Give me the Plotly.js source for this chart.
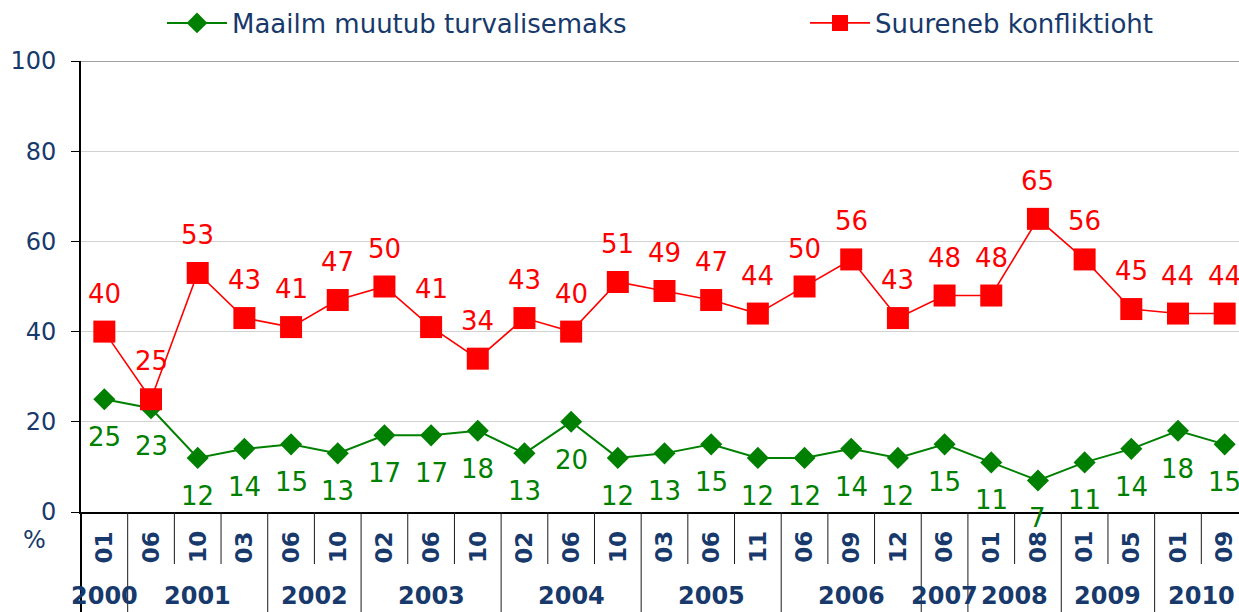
<!DOCTYPE html>
<html><head><meta charset="utf-8">
<script src="https://cdn.plot.ly/plotly-3.0.1.min.js"></script>
<style>html,body{margin:0;padding:0;overflow:hidden;background:#fff}#chart{width:1250px;height:612px}</style>
</head><body><div id="chart"></div>
<script>
const months = ['01','06','10','03','06','10','02','06','10','02','06','10','03','06','11','06','09','12','06','01','08','01','05','01','09'];
const years = ['2000','2001','2001','2001','2002','2002','2003','2003','2003','2004','2004','2004','2005','2005','2005','2006','2006','2006','2007','2008','2008','2009','2009','2010','2010'];
const saferWorld = [25,23,12,14,15,13,17,17,18,13,20,12,13,15,12,12,14,12,15,11,7,11,14,18,15];
const moreConflict = [40,25,53,43,41,47,50,41,34,43,40,51,49,47,44,50,56,43,48,48,65,56,45,44,44];
const yTicks = [0,20,40,60,80,100];
const seriesNames = ['Maailm muutub turvalisemaks','Suureneb konfliktioht'];
const unitLabel = '%';

const NAVY = '#17396B';
const GREEN = '#008000';
const RED = '#FF0000';
const FONT = 'DejaVu Sans, Verdana, sans-serif';
const idx = months.map((m, i) => i);

const traces = [
  {x: idx, y: saferWorld, name: seriesNames[0], type: 'scatter', mode: 'lines+markers', legend: 'legend',
   line: {color: GREEN, width: 2}, marker: {symbol: 'diamond', size: 17, color: GREEN, line: {width: 0}},
   hoverinfo: 'skip'},
  {x: idx, y: moreConflict, name: seriesNames[1], type: 'scatter', mode: 'lines+markers', legend: 'legend2',
   line: {color: RED, width: 1.6}, marker: {symbol: 'square', size: 22, color: RED, line: {width: 0}},
   hoverinfo: 'skip'}
];

const annotations = [];
idx.forEach(i => {
  annotations.push({x: i, y: saferWorld[i], xref: 'x', yref: 'y', text: String(saferWorld[i]), showarrow: false,
    yshift: -38, xanchor: 'center', yanchor: 'middle', font: {family: FONT, size: 26, color: GREEN}});
  annotations.push({x: i, y: moreConflict[i], xref: 'x', yref: 'y', text: String(moreConflict[i]), showarrow: false,
    yshift: 38, xanchor: 'center', yanchor: 'middle', font: {family: FONT, size: 26, color: RED}});
  annotations.push({x: i, y: -0.078, xref: 'x', yref: 'paper', text: months[i], showarrow: false, textangle: -90,
    xanchor: 'center', yanchor: 'middle', font: {family: FONT, size: 23, color: NAVY, weight: 'bold'}});
});

const shapes = [];
let start = 0;
for (let i = 1; i <= years.length; i++) {
  if (i === years.length || years[i] !== years[start]) {
    annotations.push({x: (start + i - 1) / 2, y: -0.186, xref: 'x', yref: 'paper', text: years[start], showarrow: false,
      xanchor: 'center', yanchor: 'middle', font: {family: FONT, size: 24, color: NAVY, weight: 'bold'}});
    start = i;
  }
}
for (let i = 1; i < years.length; i++) {
  const full = years[i] !== years[i - 1];
  shapes.push({type: 'line', xref: 'x', yref: 'paper', x0: i - 0.5, x1: i - 0.5, y0: 0, y1: full ? -0.25 : -0.1153,
    line: {color: '#1a1a1a', width: 1}});
}
shapes.push({type: 'line', xref: 'paper', yref: 'paper', x0: 0, x1: 0, y0: 0, y1: -0.25, line: {color: '#000', width: 2}});
shapes.push({type: 'line', xref: 'paper', yref: 'y', x0: 0, x1: 1, y0: 100, y1: 100, line: {color: '#A0A0A0', width: 2}});

annotations.push({x: -46 / 1167, y: -0.062, xref: 'paper', yref: 'paper', text: unitLabel, showarrow: false,
  xanchor: 'center', yanchor: 'middle', font: {family: FONT, size: 24, color: NAVY}});

const legendBase = {orientation: 'h', xref: 'container', yref: 'container', y: 1 - 23 / 612,
  xanchor: 'left', yanchor: 'middle', font: {family: FONT, size: 26, color: NAVY},
  itemwidth: 60, bgcolor: 'rgba(0,0,0,0)'};

const layout = {
  width: 1250, height: 612,
  margin: {l: 81, r: 2, t: 61, b: 100},
  paper_bgcolor: '#fff', plot_bgcolor: '#fff',
  font: {family: FONT, color: NAVY},
  showlegend: true,
  legend: Object.assign({}, legendBase, {x: 162 / 1250}),
  legend2: Object.assign({}, legendBase, {x: 805 / 1250}),
  xaxis: {range: [-0.5, 24.5], showticklabels: false, ticks: '', showgrid: false, zeroline: false,
    showline: true, linecolor: '#000', linewidth: 1.5, fixedrange: true},
  yaxis: {range: [0, 100], tickvals: yTicks, ticktext: yTicks.map(String), ticks: 'outside', ticklen: 8,
    tickcolor: '#000', tickwidth: 1, ticklabelstandoff: 10, tickfont: {family: FONT, size: 24, color: NAVY},
    showgrid: true, gridcolor: '#D2D2D2', gridwidth: 1, zeroline: false, showline: true, linecolor: '#000',
    linewidth: 2, fixedrange: true},
  annotations: annotations,
  shapes: shapes
};

Plotly.newPlot('chart', traces, layout, {displayModeBar: false, staticPlot: true});
</script>
</body></html>
